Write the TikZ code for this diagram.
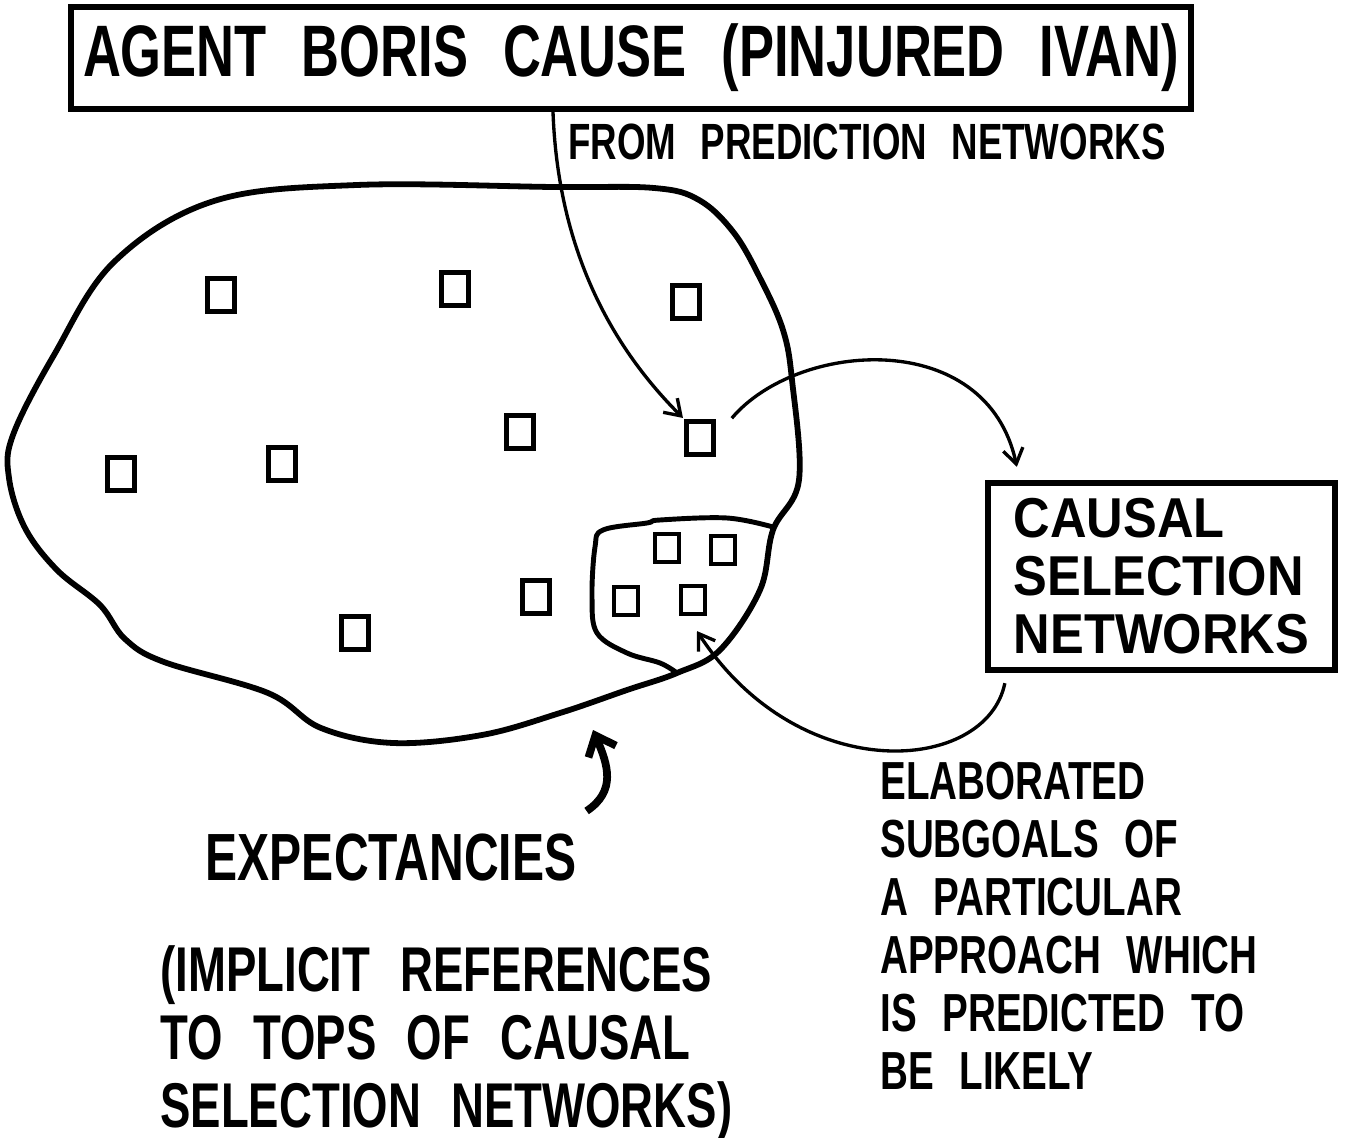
\documentclass[tikz,border=0pt]{standalone}
\usepackage{fontspec}
\newfontfamily\handfont[FakeStretch=0.72,WordSpace=2.4]{Liberation Sans}
\newfontfamily\handwide[FakeStretch=0.9,WordSpace=2.4]{Liberation Sans}
\usepackage{tikz}
\usetikzlibrary{arrows.meta, positioning, calc}

\begin{document}
\begin{tikzpicture}[
    cell/.style={draw, line width=2.6pt, minimum width=0.54cm, minimum height=0.66cm, inner sep=0pt},
    smallcell/.style={draw, line width=2.4pt, minimum width=0.48cm, minimum height=0.56cm, inner sep=0pt},
    thinarrow/.style={line width=1.9pt, -{Straight Barb[length=3mm, width=4mm]}},
    framebox/.style={draw, line width=3.6pt, inner sep=0pt}
  ]
  \useasboundingbox (0,0) rectangle (27.02,-22.76);

  % Top frame
  \node[framebox, minimum width=22.4cm, minimum height=2.04cm, font=\handfont\bfseries\fontsize{41.5}{46}\selectfont] (title) at (12.62,-1.16) {AGENT BORIS CAUSE (PINJURED IVAN)};
  \node[anchor=base west, inner sep=0pt, font=\handfont\bfseries\fontsize{29}{32}\selectfont] (from) at (11.36,-3.2) {FROM PREDICTION NETWORKS};

  % Expectancy region
  \draw[line width=3.3pt] plot[smooth cycle, tension=0.6] coordinates {
    (4.28,-4.02) (7.14,-3.70) (11.06,-3.74) (13.08,-3.76) (13.98,-4.00) (14.68,-4.66)
    (15.22,-5.60) (15.66,-6.60) (15.84,-7.60) (15.98,-9.60) (15.46,-10.60) (15.20,-11.80)
    (14.40,-13.00) (13.54,-13.46) (12.54,-13.80) (11.20,-14.26) (9.64,-14.70) (7.86,-14.86)
    (6.42,-14.56) (5.36,-13.86) (3.28,-13.24) (2.50,-12.78) (2.00,-12.10) (1.14,-11.40)
    (0.50,-10.56) (0.18,-9.56) (0.26,-8.70) (1.08,-7.10) (2.28,-5.24)};
  \draw[line width=2.8pt] plot[smooth, tension=0.6] coordinates {
    (15.46,-10.54) (14.54,-10.36) (13.20,-10.40) (12.94,-10.46) (12.06,-10.60) (11.90,-10.94)
    (11.84,-11.94) (11.94,-12.66) (12.54,-13.06) (13.20,-13.26) (13.54,-13.46)};

  % Expectancies
  \node[cell] (sq1) at (4.42,-5.90) {};
  \node[cell] (sq2) at (9.10,-5.78) {};
  \node[cell] (sq3) at (13.72,-6.04) {};
  \node[cell] (sq4) at (10.40,-8.64) {};
  \node[cell] (hit) at (14.00,-8.76) {};
  \node[cell] (sq6) at (2.42,-9.48) {};
  \node[cell] (sq7) at (5.64,-9.28) {};
  \node[cell] (sq8) at (10.72,-11.94) {};
  \node[cell] (sq9) at (7.10,-12.66) {};
  \node[smallcell] (ss1) at (13.34,-10.96) {};
  \node[smallcell] (ss2) at (14.46,-11.00) {};
  \node[smallcell] (ss3) at (12.52,-12.02) {};
  \node[smallcell] (ss4) at (13.86,-12.00) {};

  % Causal selection networks
  \node[framebox, minimum width=6.94cm, minimum height=3.74cm, align=left, font=\handwide\bfseries\fontsize{32}{33}\selectfont] (csn) at (23.23,-11.53) {CAUSAL\\SELECTION\\NETWORKS};

  % Labels
  \node[font=\handfont\bfseries\fontsize{38}{42}\selectfont, inner sep=0pt] (expl) at (7.82,-17.16) {EXPECTANCIES};
  \node[anchor=north west, align=left, inner sep=0pt, font=\handfont\bfseries\fontsize{36}{38.7}\selectfont] (impl) at (3.2,-18.9) {(IMPLICIT REFERENCES\\TO TOPS OF CAUSAL\\SELECTION NETWORKS)};
  \node[anchor=north west, align=left, inner sep=0pt, font=\handfont\bfseries\fontsize{30.5}{33}\selectfont] (elab) at (17.6,-15.24) {ELABORATED\\SUBGOALS OF\\A PARTICULAR\\APPROACH WHICH\\IS PREDICTED TO\\BE LIKELY};
  \coordinate (bottomtip) at (11.86,-14.6);

  % Arrows
  \draw[thinarrow, shorten >=1pt] ($(title.south)+(-1.56,0)$) .. controls +(0.1,-2.7) and +(-1.5,1.5) .. (hit.north west);
  \draw[thinarrow] ($(hit.north east)+(0.32,0.02)$) .. controls +(1.32,1.56) and +(-0.6,2.8) .. ($(csn.north west)+(0.64,0.26)$);
  \draw[thinarrow] ($(csn.south west)+(0.4,-0.2)$) .. controls +(-0.36,-1.8) and +(2.06,-3.16) .. ($(ss4.south)+(0.08,-0.3)$);
  \draw[line width=4.4pt, -{Straight Barb[length=3.5mm, width=6mm]}] ($(expl.north east)+(0.2,0.46)$) .. controls +(0.6,0.4) and +(0.3,-0.7) .. (bottomtip);
\end{tikzpicture}
\end{document}
